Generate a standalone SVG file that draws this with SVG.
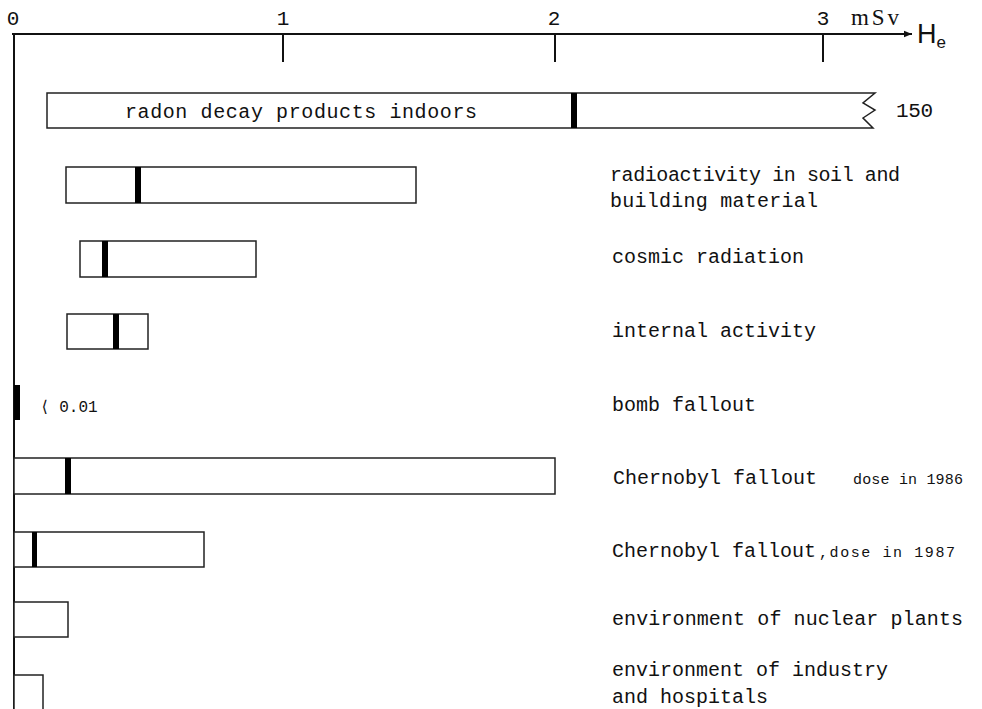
<svg xmlns="http://www.w3.org/2000/svg" width="982" height="709" viewBox="0 0 982 709">
<defs>
<style>
.bar{fill:#fff;stroke:#222;stroke-width:1.5}
.mk{fill:#000}
.lbl{font-family:"Liberation Mono",monospace;font-size:20px;fill:#111}
.sm{font-family:"Liberation Mono",monospace;font-size:15px;fill:#111}
.ax{font-family:"Liberation Mono",monospace;font-size:21px;fill:#111}
.axl{stroke:#111;stroke-width:2;fill:none}
</style>
<marker id="arr" viewBox="0 0 10 10" refX="10" refY="5" markerWidth="8" markerHeight="8" markerUnits="userSpaceOnUse" orient="auto"><path d="M0,1 L10,5 L0,9 Z" fill="#111"/></marker>
</defs>
<rect width="982" height="709" fill="#fff"/>
<g id="axes">
<line class="axl" x1="12" y1="34" x2="912" y2="34" marker-end="url(#arr)"/>
<line class="axl" x1="14" y1="33" x2="14" y2="709"/>
<line class="axl" x1="283" y1="34" x2="283" y2="62"/>
<line class="axl" x1="555" y1="34" x2="555" y2="62"/>
<line class="axl" x1="823" y1="34" x2="823" y2="62"/>
<text class="ax" x="13" y="25" text-anchor="middle">0</text>
<text class="ax" x="283" y="25" text-anchor="middle">1</text>
<text class="ax" x="554" y="25" text-anchor="middle">2</text>
<text class="ax" x="823" y="25" text-anchor="middle">3</text>
<text x="851" y="25" textLength="48" style="font-family:'Liberation Serif',serif;font-size:23px;fill:#111">mSv</text>
<text x="917" y="43" style="font-family:'Liberation Sans',sans-serif;font-size:27px;fill:#111">H<tspan dy="5" font-size="17">e</tspan></text>
</g>
<g id="radon">
<path class="bar" d="M47,93 H875 L863,103 L875,110 L863,118 L873,128 H47 Z"/>
<rect class="mk" x="571" y="93" width="6" height="35"/>
<text class="lbl" x="125" y="118" textLength="352">radon decay products indoors</text>
<text class="lbl" x="896" y="117" textLength="37" style="font-size:21px">150</text>
</g>
<g id="soil">
<rect class="bar" x="66" y="167" width="350" height="36"/>
<rect class="mk" x="135" y="167" width="6" height="36"/>
<text class="lbl" x="610" y="181" textLength="290">radioactivity in soil and</text>
<text class="lbl" x="610" y="207" textLength="208">building material</text>
</g>
<g id="cosmic">
<rect class="bar" x="80" y="241" width="176" height="36"/>
<rect class="mk" x="102" y="241" width="6" height="36"/>
<text class="lbl" x="612" y="263">cosmic radiation</text>
</g>
<g id="internal">
<rect class="bar" x="67" y="314" width="81" height="35"/>
<rect class="mk" x="113" y="314" width="6" height="35"/>
<text class="lbl" x="612" y="337">internal activity</text>
</g>
<g id="bomb">
<rect class="mk" x="14" y="385" width="6" height="35"/>
<text class="sm" x="40" y="412" style="font-size:16px">⟨ 0.01</text>
<text class="lbl" x="612" y="411">bomb fallout</text>
</g>
<g id="chern86">
<rect class="bar" x="14" y="458" width="541" height="36"/>
<rect class="mk" x="65" y="458" width="6" height="36"/>
<text class="lbl" x="613" y="484">Chernobyl fallout</text>
<text class="sm" x="853" y="484" textLength="110">dose in 1986</text>
</g>
<g id="chern87">
<rect class="bar" x="14" y="532" width="190" height="35"/>
<rect class="mk" x="32" y="532" width="5" height="35"/>
<text class="lbl" x="612" y="557">Chernobyl fallout</text>
<text class="sm" x="819" y="557" textLength="136">,dose in 1987</text>
</g>
<g id="nuclear">
<rect class="bar" x="14" y="602" width="54" height="35"/>
<text class="lbl" x="612" y="625" textLength="351">environment of nuclear plants</text>
</g>
<g id="industry">
<rect class="bar" x="14" y="675" width="29" height="35"/>
<text class="lbl" x="612" y="676">environment of industry</text>
<text class="lbl" x="612" y="703">and hospitals</text>
</g>
</svg>
